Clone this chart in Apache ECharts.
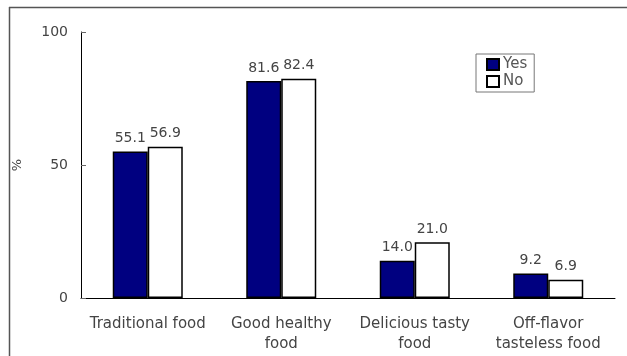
<!DOCTYPE html>
<html>
<head>
<meta charset="utf-8">
<script src="https://cdn.jsdelivr.net/npm/echarts@6/dist/echarts.min.js"></script>
<style>
html,body{margin:0;padding:0;background:#fff;}
#chart{width:627px;height:356px;}
</style>
</head>
<body>
<div id="chart"></div>
<script>
const categories = ['Traditional food', 'Good healthy\nfood', 'Delicious tasty\nfood', 'Off-flavor\ntasteless food'];
const yesValues = [55.1, 81.6, 14.0, 9.2];
const noValues = [56.9, 82.4, 21.0, 6.9];
const seriesNames = ['Yes', 'No'];

const FONT = 'DejaVu Sans';
const chart = echarts.init(document.getElementById('chart'), null, {renderer: 'canvas'});
const labelCfg = {
  show: true, position: 'top', distance: 6,
  fontFamily: FONT, fontSize: 14, color: '#444',
  formatter: p => p.value.toFixed(1)
};
chart.setOption({
  animation: false,
  textStyle: {fontFamily: FONT},
  graphic: [
    {type: 'line', shape: {x1: 9, y1: 7.5, x2: 627, y2: 7.5}, style: {stroke: '#555', lineWidth: 1.5}},
    {type: 'line', shape: {x1: 9.5, y1: 7, x2: 9.5, y2: 356}, style: {stroke: '#555', lineWidth: 1.5}}
  ],
  grid: {left: 81, right: 12, top: 32, bottom: 58, containLabel: false},
  legend: {
    orient: 'vertical', left: 476, top: 54,
    data: seriesNames,
    borderColor: '#777', borderWidth: 1,
    padding: [3, 7, 3, 10],
    itemWidth: 12, itemHeight: 11, itemGap: 2,
    icon: 'rect',
    textStyle: {fontFamily: FONT, fontSize: 15, color: '#555', padding: [0, 0, 0, -1]}
  },
  xAxis: {
    type: 'category', data: categories,
    axisLine: {lineStyle: {color: '#000', width: 1}},
    axisTick: {inside: true, length: 4, lineStyle: {color: '#666'}},
    axisLabel: {fontFamily: FONT, fontSize: 15, color: '#444', margin: 16, lineHeight: 20, interval: 0}
  },
  yAxis: {
    type: 'value', min: 0, max: 100, interval: 50,
    name: '%', nameLocation: 'middle', nameGap: 57, nameRotate: 90,
    nameTextStyle: {fontFamily: FONT, fontSize: 13, color: '#444'},
    splitLine: {show: false},
    axisLine: {show: true, lineStyle: {color: '#000', width: 1}},
    axisTick: {show: true, inside: true, length: 5, lineStyle: {color: '#666'}},
    axisLabel: {fontFamily: FONT, fontSize: 14, color: '#444', margin: 13}
  },
  series: [
    {
      name: seriesNames[0], type: 'bar', data: yesValues,
      barWidth: 35, barGap: '0%',
      itemStyle: {color: '#000080', borderColor: '#000', borderWidth: 1.5},
      label: labelCfg
    },
    {
      name: seriesNames[1], type: 'bar', data: noValues,
      barWidth: 35, barGap: '0%',
      itemStyle: {color: '#ffffff', borderColor: '#000', borderWidth: 1.5},
      label: labelCfg
    }
  ]
});
</script>
</body>
</html>
